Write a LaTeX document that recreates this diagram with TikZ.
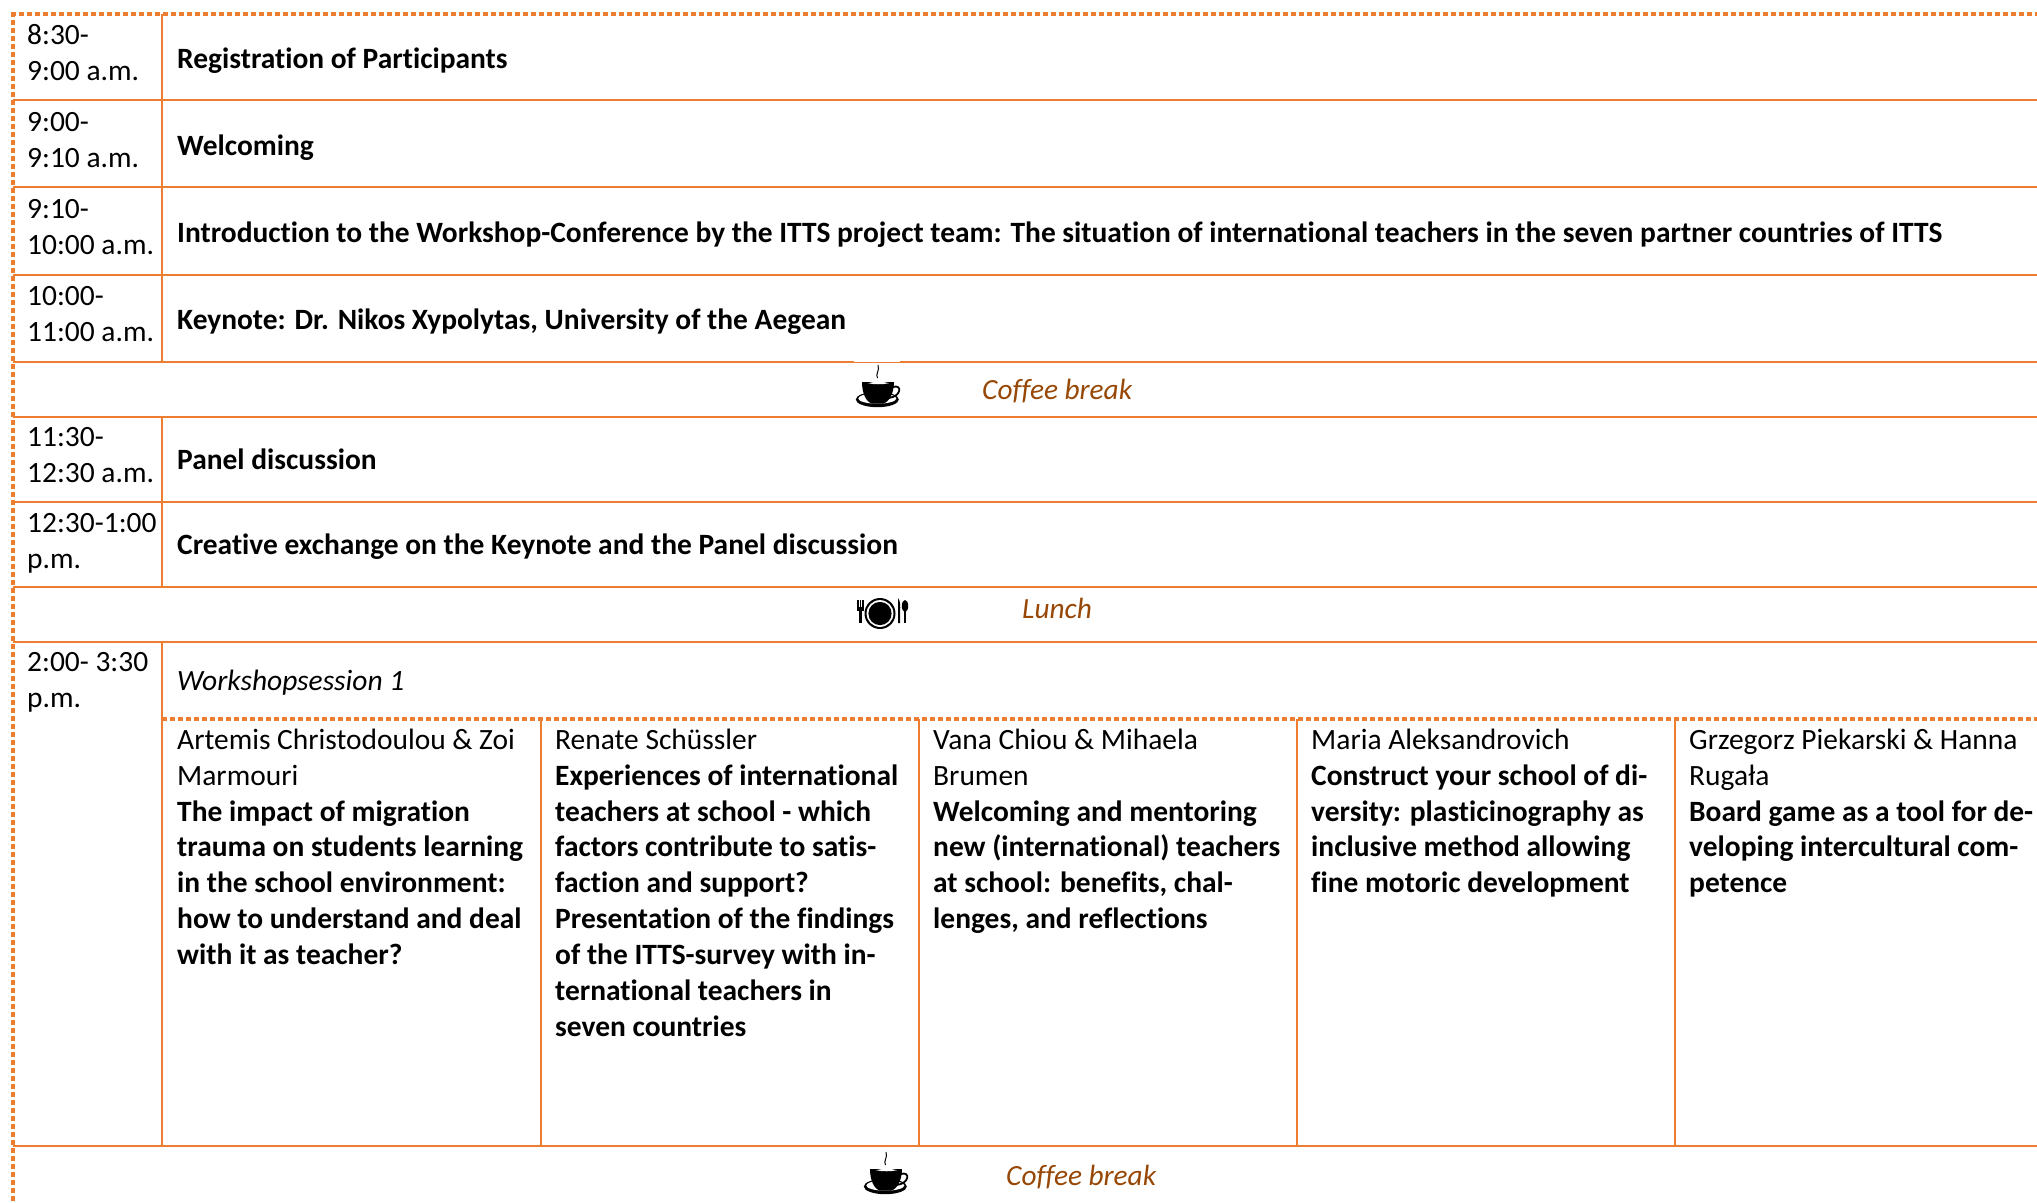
\documentclass[tikz,border=0pt]{standalone}
\usepackage{fontspec}
\setmainfont[Ligatures=NoCommon]{Carlito}
\definecolor{tableorange}{HTML}{ED7D31}
\definecolor{breakbrown}{HTML}{984806}
\tikzset{
  x=1pt,y=-1pt,
  rule/.style={draw=tableorange,line width=2pt},
  dotrule/.style={draw=tableorange,line width=4pt,dash pattern=on 4.5pt off 3.5pt},
  tx/.style={anchor=north west,inner sep=0pt,align=left,font=\fontsize{29.45}{35.85}\selectfont,text=black},
  one/.style={anchor=base west,inner sep=0pt,font=\fontsize{29.45}{35.85}\selectfont,text=black},
  brk/.style={one,text=breakbrown,font=\fontsize{29.3}{36}\selectfont\itshape},
  pics/cup/.style={code={
    \fill[black] (21.3,34.5) ellipse [x radius=21.5,y radius=7.7];
    \fill[white] (21.3,33.5) ellipse [x radius=19,y radius=5.2];
    \fill[black] (6,17) -- (38,17) .. controls (38,28) and (33,37.5) .. (27,38.5) -- (16,38.5) .. controls (10,37) and (6,28) .. (6,17) -- cycle;
    \draw[black,line width=1.8pt] (37,22) .. controls (46,19) and (46,31) .. (33,33);
    \fill[white] (12,18.2) .. controls (18,16.4) and (27,16.4) .. (33,18.2) .. controls (27,19.6) and (18,19.6) .. (12,18.2) -- cycle;
    \draw[black,line width=1pt] (21.5,13) .. controls (19,9) and (24,6) .. (22,0);
  }},
  pics/plate/.style={code={
    \fill[black] (23,15.5) circle [radius=15.5];
    \fill[white] (23,15.5) circle [radius=13.4];
    \fill[black] (23,15.5) circle [radius=11.6];
    \fill[black] (0,2) rectangle (1.6,10);
    \fill[black] (2.5,2) rectangle (4,10);
    \fill[black] (5,2) rectangle (6.6,10);
    \fill[black] (0,9) rectangle (6.6,13);
    \fill[black] (2,12) rectangle (4.6,25);
    \fill[black] (41,0) .. controls (43.5,3) and (43.5,9) .. (43,13) -- (43,25) -- (41,25) -- cycle;
    \fill[black] (48,8) ellipse [x radius=3.2,y radius=6];
    \fill[black] (47,12) rectangle (49,25);
  }}
}
\begin{document}
\begin{tikzpicture}
\useasboundingbox (0,0) rectangle (2037,1202);
\fill[white] (0,0) rectangle (2037,1202);

% horizontal rules
\foreach \yy in {99.5,187,275,362,417,502,587,642,1146} \draw[rule] (13,\yy) -- (2037,\yy);
% vertical rules
\draw[rule] (162,14) -- (162,362);
\draw[rule] (162,417) -- (162,587);
\draw[rule] (162,642) -- (162,1146);
\foreach \xx in {541,918.5,1296.5,1675} \draw[rule] (\xx,719) -- (\xx,1146);
% dotted rules
\draw[dotrule] (11,14) -- (2037,14);
\draw[dotrule] (13,12) -- (13,1202);
\draw[dotrule] (162,719) -- (2037,719);

% time column
\node[tx] (t1) at (27,18.9) {\strut 8:30-\\9:00 a.m.};
\node[tx] (t2) at (27,105.9) {\strut 9:00-\\9:10 a.m.};
\node[tx] (t3) at (27,192.9) {\strut 9:10-\\10:00 a.m.};
\node[tx] (t4) at (27,280.6) {\strut 10:00-\\11:00 a.m.};
\node[tx] (t5) at (27,421.6) {\strut 11:30-\\12:30 a.m.};
\node[tx] (t6) at (27,506.9) {\strut 12:30-1:00\\p.m.};
\node[tx] (t7) at (27,646.6) {\strut 2:00- 3:30\\p.m.};

% main column
\node[one] (m1) at (177,68) {\textbf{Registration of Participants}};
\node[one] (m2) at (177,155) {\textbf{Welcoming}};
\node[one] (m3) at (177,242) {\textbf{Introduction to the Workshop-Conference by the ITTS project team: The situation of international teachers in the seven partner countries of ITTS}};
\node[one] (m4) at (177,329) {\textbf{Keynote: Dr. Nikos Xypolytas, University of the Aegean}};
\node[one] (m5) at (177,469) {\textbf{Panel discussion}};
\node[one] (m6) at (177,554) {\textbf{Creative exchange on the Keynote and the Panel discussion}};
\node[one] (m7) at (177,690) {\textit{Workshopsession 1}};

% breaks
\fill[white] (854,360) rectangle (900,362);
\pic at (856,365) {cup};
\node[brk] (b1) at (982,399) {Coffee break};
\pic at (857,598) {plate};
\node[brk] (b2) at (1022,618) {Lunch};
\pic at (864,1152) {cup};
\node[brk] (b3) at (1006,1185) {Coffee break};

% workshops
\node[tx] (w1) at (177,724) {\strut Artemis Christodoulou \& Zoi\\Marmouri\\\textbf{The impact of migration}\\\textbf{trauma on students learning}\\\textbf{in the school environment:}\\\textbf{how to understand and deal}\\\textbf{with it as teacher?}};
\node[tx] (w2) at (555,724) {\strut Renate Schüssler\\\textbf{Experiences of international}\\\textbf{teachers at school - which}\\\textbf{factors contribute to satis-}\\\textbf{faction and support?}\\\textbf{Presentation of the findings}\\\textbf{of the ITTS-survey with in-}\\\textbf{ternational teachers in}\\\textbf{seven countries}};
\node[tx] (w3) at (933,724) {\strut Vana Chiou \& Mihaela\\Brumen\\\textbf{Welcoming and mentoring}\\\textbf{new (international) teachers}\\\textbf{at school: benefits, chal-}\\\textbf{lenges, and reflections}};
\node[tx] (w4) at (1311,724) {\strut Maria Aleksandrovich\\\textbf{Construct your school of di-}\\\textbf{versity: plasticinography as}\\\textbf{inclusive method allowing}\\\textbf{fine motoric development}};
\node[tx] (w5) at (1689,724) {\strut Grzegorz Piekarski \& Hanna\\Rugała\\\textbf{Board game as a tool for de-}\\\textbf{veloping intercultural com-}\\\textbf{petence}};
\end{tikzpicture}
\end{document}
